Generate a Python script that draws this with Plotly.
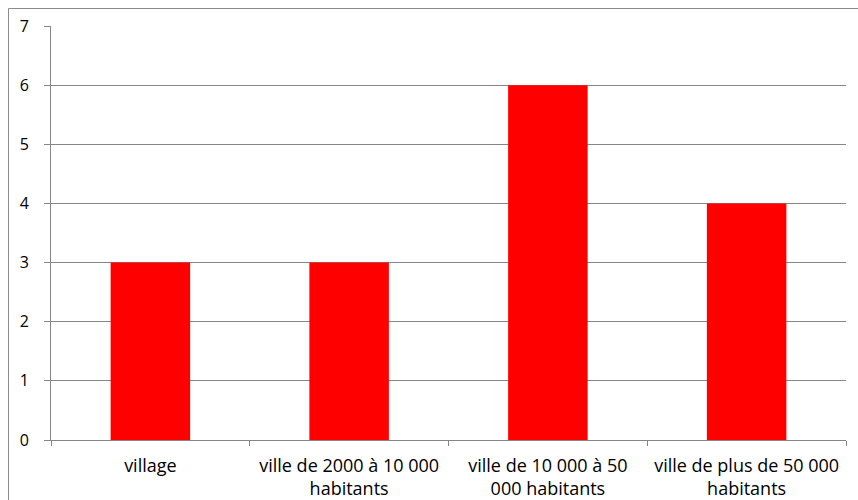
import plotly.graph_objects as go

categories = ["village", "ville de 2000 à 10 000<br>habitants", "ville de 10 000 à 50<br>000 habitants", "ville de plus de 50 000<br>habitants"]
values = [3, 3, 6, 4]
y_ticks = [0, 1, 2, 3, 4, 5, 6, 7]

fig = go.Figure(go.Bar(x=categories, y=values, marker=dict(color="#FF0000", line=dict(width=0)), width=0.4))

W, H = 858, 500
L, R, T, B = 51, 12, 26, 60
pw, ph = W - L - R, H - T - B

def px_x(p):
    return (p - L) / pw

def px_y(p):
    return (H - B - p) / ph

fig.add_shape(type="rect", xref="paper", yref="paper",
              x0=px_x(8.5), x1=px_x(880), y0=px_y(8.5), y1=px_y(520),
              line=dict(color="#8c8c8c", width=1), layer="below")

fig.update_layout(
    width=W, height=H,
    margin=dict(l=L, r=R, t=T, b=B),
    plot_bgcolor="white", paper_bgcolor="white",
    showlegend=False,
    font=dict(family="Open Sans, sans-serif", size=16, color="#000000"),
    xaxis=dict(type="category", showgrid=False, showline=True, linecolor="#868686", linewidth=1,
               ticks="outside", tickson="boundaries", ticklen=5, tickcolor="#868686",
               tickfont=dict(size=18), ticklabelstandoff=9, automargin=False),
    yaxis=dict(range=[0, 7], tickvals=y_ticks, showgrid=True, gridcolor="#868686", gridwidth=1,
               showline=True, linecolor="#868686", linewidth=1, ticks="outside", ticklen=6,
               tickcolor="#868686", zeroline=False, tickfont=dict(size=16), ticklabelstandoff=12,
               automargin=False),
    bargap=0.6,
)

fig.write_html("out.html")
